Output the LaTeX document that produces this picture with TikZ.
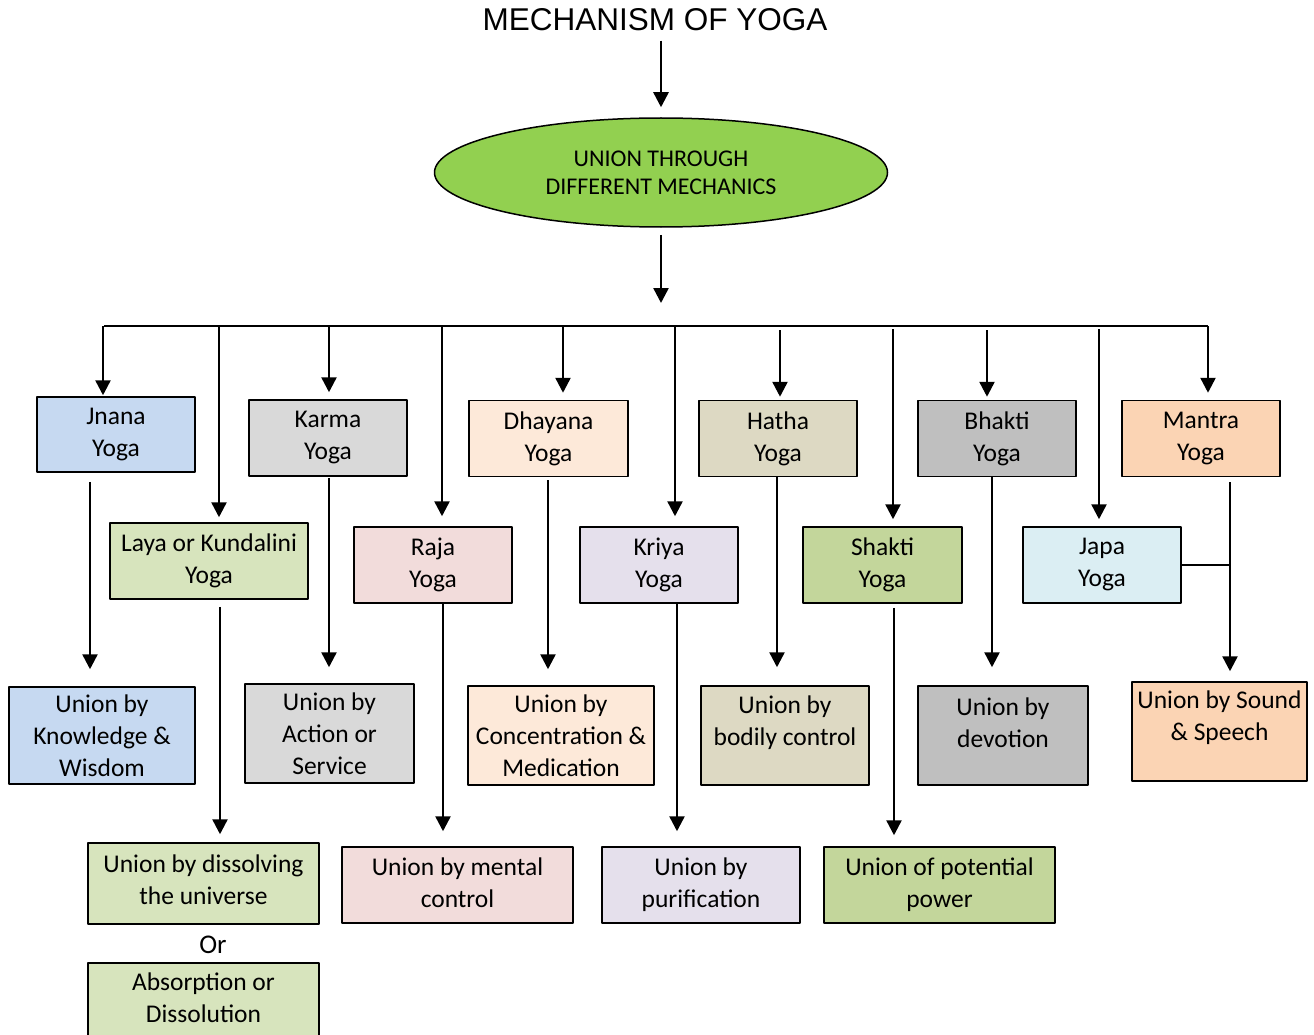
\documentclass[tikz,border=0pt]{standalone}
\usepackage{fontspec}
\setmainfont{Carlito}
\newfontfamily\titlefont{Liberation Sans}
\usetikzlibrary{arrows.meta}
\usetikzlibrary{shapes.geometric}
\definecolor{mechC}{HTML}{92D050}
\definecolor{jnanaC}{HTML}{C6D9F1}
\definecolor{karmaC}{HTML}{D9D9D9}
\definecolor{dhyanaC}{HTML}{FDE9D9}
\definecolor{hathaC}{HTML}{DDD9C3}
\definecolor{bhaktiC}{HTML}{BFBFBF}
\definecolor{mantraC}{HTML}{FBD4B4}
\definecolor{layaC}{HTML}{D7E4BD}
\definecolor{rajaC}{HTML}{F2DCDB}
\definecolor{kriyaC}{HTML}{E5E0EC}
\definecolor{shaktiC}{HTML}{C3D69B}
\definecolor{japaC}{HTML}{DBEEF3}
\tikzset{
  ytext/.style={align=center, inner sep=0pt, font=\fontsize{25.5}{32}\selectfont},
  ybox/.style={ytext, draw, line width=1.5pt},
  arr/.style={line width=2.5pt, -{Triangle[width=15pt,length=15pt]}},
  link/.style={line width=2.5pt}
}

\begin{document}
\begin{tikzpicture}[line join=round,x=1pt,y=-1pt]
\useasboundingbox (0,0) rectangle (1314,1035);
% head
\node[font=\titlefont\fontsize{31.5}{36}\selectfont] (title) at (655,20) {MECHANISM OF YOGA};
\node[ellipse, draw, line width=1.5pt, fill=mechC, inner sep=0pt, minimum width=453pt,
  minimum height=109pt, align=center, font=\fontsize{24}{28}\selectfont] (mech) at (661,172.5)
  {UNION THROUGH\\DIFFERENT MECHANICS};
\draw[arr, shorten <=6pt, shorten >=10pt] (title.south -| mech.north) -- (mech.north);
\coordinate (hub) at (661,326);
\draw[arr, shorten <=7pt, shorten >=23pt] (mech.south) -- (hub);
\coordinate (busL) at (104,326);
\coordinate (busR) at (1208,326);
\draw[link, line width=2.2pt] (busL) -- (busR);

% yoga boxes, upper row
\node[ybox, fill=jnanaC, minimum width=158pt, minimum height=75pt] (jnana) at (116,434.5) {Jnana\\Yoga};
\node[ybox, fill=karmaC, minimum width=158pt, minimum height=76pt] (karma) at (328,438) {Karma\\Yoga};
\node[ybox, fill=dhyanaC, minimum width=159pt, minimum height=76pt] (dhyana) at (548.5,438.5) {Dhayana\\Yoga};
\node[ybox, fill=hathaC, minimum width=158pt, minimum height=76pt] (hatha) at (778,438.5) {Hatha\\Yoga};
\node[ybox, fill=bhaktiC, minimum width=158pt, minimum height=76pt] (bhakti) at (997,438.5) {Bhakti\\Yoga};
\node[ybox, fill=mantraC, minimum width=158pt, minimum height=76pt] (mantra) at (1201,438.5) {Mantra\\Yoga};
% yoga boxes, lower row
\node[ybox, fill=layaC, minimum width=198pt, minimum height=76pt] (laya) at (209,561) {Laya or Kundalini\\Yoga};
\node[ybox, fill=rajaC, minimum width=158pt, minimum height=76pt] (raja) at (433,565) {Raja\\Yoga};
\node[ybox, fill=kriyaC, minimum width=158pt, minimum height=76pt] (kriya) at (659,565) {Kriya\\Yoga};
\node[ybox, fill=shaktiC, minimum width=159pt, minimum height=76pt] (shakti) at (882.5,565) {Shakti\\Yoga};
\node[ybox, fill=japaC, minimum width=158pt, minimum height=76pt] (japa) at (1102,565) {Japa\\Yoga};

% unions
\node[ybox, fill=jnanaC, minimum width=186pt, minimum height=97pt] (knowledge) at (102,735.5) {Union by\\Knowledge \&\\Wisdom};
\node[ybox, fill=karmaC, minimum width=169pt, minimum height=99pt] (action) at (329.5,733.5) {Union by\\Action or\\Service};
\node[ybox, fill=dhyanaC, minimum width=186pt, minimum height=99pt] (concentration) at (561,735.5) {Union by\\Concentration \&\\Medication};
\node[ybox, fill=hathaC, minimum width=168pt, minimum height=99pt] (bodily) at (785,735.5) {};
\node[ytext] (bodilyText) at (785,722.5) {Union by\\bodily control};
\node[ybox, fill=bhaktiC, minimum width=170pt, minimum height=99pt] (devotion) at (1003,735.5) {};
\node[ytext] (devotionText) at (1003,722.5) {Union by\\devotion};
\node[ybox, fill=mantraC, minimum width=175pt, minimum height=99pt] (sound) at (1219.5,731.5) {};
\node[ytext] (soundText) at (1219.5,717.5) {Union by Sound\\\& Speech};
\node[ybox, fill=layaC, minimum width=231pt, minimum height=81pt] (dissolving) at (203.5,883.5) {};
\node[ytext] (dissolvingText) at (203.5,879.5) {Union by dissolving\\the universe};
\node[ybox, fill=rajaC, minimum width=231pt, minimum height=76pt] (mental) at (457.5,885) {};
\node[ytext] (mentalText) at (457.5,883) {Union by mental\\control};
\node[ybox, fill=kriyaC, minimum width=198pt, minimum height=76pt] (purification) at (701,885) {Union by\\purification};
\node[ybox, fill=shaktiC, minimum width=231pt, minimum height=76pt] (potential) at (939.5,885) {Union of potential\\power};
\node[ytext, font=\fontsize{27}{32}\selectfont] (ortext) at (213,945) {Or};
\node[ybox, fill=layaC, minimum width=231pt, minimum height=90pt, anchor=north] (absorption) at (203.5,962) {};
\node[ytext] (absorptionText) at (203.5,997.5) {Absorption or\\Dissolution};

% drops from the bus
\coordinate (dJnana) at (103,326);
\coordinate (dLaya) at (219,326);
\coordinate (dKarma) at (329,326);
\coordinate (dRaja) at (442,326);
\coordinate (dDhyana) at (563,326);
\coordinate (dKriya) at (675,326);
\coordinate (dHatha) at (780,326);
\coordinate (dShakti) at (893,326);
\coordinate (dBhakti) at (987,326);
\coordinate (dJapa) at (1099,326);
\draw[arr, shorten >=1pt] (dJnana) -- (dJnana |- jnana.north);
\draw[arr, shorten >=5pt] (dLaya) -- (dLaya |- laya.north);
\draw[arr, shorten >=7pt] (dKarma) -- (dKarma |- karma.north);
\draw[arr, shorten >=10pt] (dRaja) -- (dRaja |- raja.north);
\draw[arr, shorten >=7pt] (dDhyana) -- (dDhyana |- dhyana.north);
\draw[arr, shorten >=10pt] (dKriya) -- (dKriya |- kriya.north);
\draw[arr, shorten <=4pt, shorten >=3pt] (dHatha) -- (dHatha |- hatha.north);
\draw[arr, shorten <=3pt, shorten >=7pt] (dShakti) -- (dShakti |- shakti.north);
\draw[arr, shorten <=4pt, shorten >=3pt] (dBhakti) -- (dBhakti |- bhakti.north);
\draw[arr, shorten <=3pt, shorten >=7pt] (dJapa) -- (dJapa |- japa.north);
\draw[arr, shorten >=7pt] (busR) -- (busR |- mantra.north);

% yoga to union
\coordinate (xJnana) at (90,0);
\coordinate (xLaya) at (220,0);
\coordinate (xKarma) at (329,0);
\coordinate (xRaja) at (443,0);
\coordinate (xDhyana) at (548,0);
\coordinate (xKriya) at (677,0);
\coordinate (xHatha) at (777,0);
\coordinate (xShakti) at (894,0);
\coordinate (xBhakti) at (992,0);
\coordinate (xMantra) at (1230,0);
\draw[arr, shorten <=9pt, shorten >=17pt] (jnana.south -| xJnana) -- (knowledge.north -| xJnana);
\draw[arr, shorten <=7pt, shorten >=8pt] (laya.south -| xLaya) -- (dissolving.north -| xLaya);
\draw[arr, shorten <=1pt, shorten >=16pt] (karma.south -| xKarma) -- (action.north -| xKarma);
\draw[arr, shorten >=15pt] (raja.south -| xRaja) -- (mental.north -| xRaja);
\draw[arr, shorten <=3pt, shorten >=16pt] (dhyana.south -| xDhyana) -- (concentration.north -| xDhyana);
\draw[arr, shorten >=15pt] (kriya.south -| xKriya) -- (purification.north -| xKriya);
\draw[arr, shorten >=18pt] (hatha.south -| xHatha) -- (bodily.north -| xHatha);
\draw[arr, shorten <=4pt, shorten >=11pt] (shakti.south -| xShakti) -- (potential.north -| xShakti);
\draw[arr, shorten >=18pt] (bhakti.south -| xBhakti) -- (devotion.north -| xBhakti);
\draw[arr, shorten <=5pt, shorten >=10pt] (mantra.south -| xMantra) -- (sound.north -| xMantra);
\draw[link, line width=2pt] (japa.east) -- (japa.east -| xMantra);
\end{tikzpicture}
\end{document}
